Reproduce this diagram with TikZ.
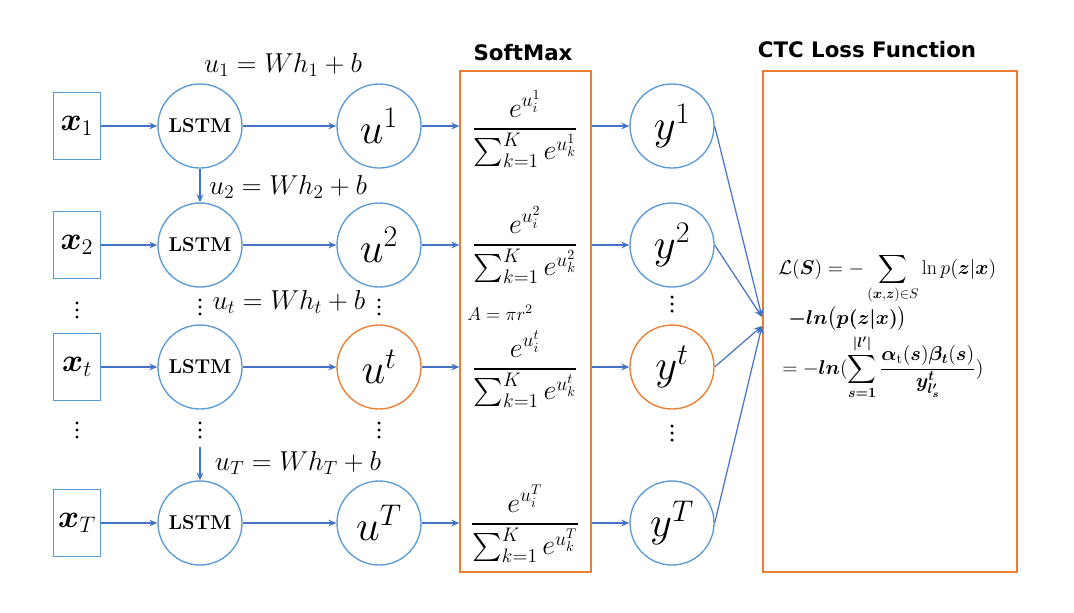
\RequirePackage{fix-cm}
\documentclass[tikz,border=0pt]{standalone}
\usepackage{amsmath,amssymb}
\usepackage{bm}
\usepackage{fontspec}
\newfontfamily\titlefont{DejaVu Sans}
\usetikzlibrary{arrows.meta}
\definecolor{cblue}{RGB}{91,155,213}
\definecolor{ablue}{RGB}{68,114,196}
\definecolor{corange}{RGB}{237,125,49}
\newcommand{\myfs}[1]{\fontsize{#1}{#1}\selectfont}
\begin{document}
\begin{tikzpicture}[x=0.75pt,y=-0.75pt,
  circ/.style={circle,draw=cblue,line width=1pt,minimum size=63pt,inner sep=0pt},
  ocirc/.style={circ,draw=corange},
  xbox/.style={draw=cblue,line width=1pt,minimum width=35pt,minimum height=50pt,inner sep=0pt,font=\myfs{24}},
  lstm/.style={circ,font=\myfs{15}\bfseries},
  unode/.style={font=\myfs{32}},
  arr/.style={draw=ablue,line width=0.9pt,-{Stealth[length=6pt,width=5pt]}},
  lab/.style={font=\myfs{20.5}},
  fracn/.style={font=\myfs{21},anchor=base},
  ttl/.style={font=\titlefont\bfseries\myfs{16}},
  ctc/.style={font=\myfs{15},anchor=base west,inner sep=0pt},
  obox/.style={draw=corange,line width=1pt,inner sep=0pt}
]
\useasboundingbox (0,0) rectangle (1074,612);
\fill[white] (0,0) rectangle (1074,612);

% input boxes
\node[xbox] (x1) at (77,126) {$\bm{x}_1$};
\node[xbox] (x2) at (77,245) {$\bm{x}_2$};
\node[xbox] (xt) at (77,367) {$\bm{x}_t$};
\node[xbox] (xT) at (77,523) {$\bm{x}_T$};

% LSTM
\node[lstm] (l1) at (200,126) {LSTM};
\node[lstm] (l2) at (200,245) {LSTM};
\node[lstm] (lt) at (200,367) {LSTM};
\node[lstm] (lT) at (200,523) {LSTM};

% u nodes
\node[circ,unode] (u1) at (379,126) {$u^1$};
\node[circ,unode] (u2) at (379,245) {$u^2$};
\node[ocirc,unode] (ut) at (379,367) {$u^t$};
\node[circ,unode] (uT) at (379,523) {$u^T$};

% y nodes
\node[circ,unode] (y1) at (672,126) {$y^1$};
\node[circ,unode] (y2) at (672,245) {$y^2$};
\node[ocirc,unode] (yt) at (672,367) {$y^t$};
\node[circ,unode] (yT) at (672,523) {$y^T$};

% boxes
\node[obox,minimum width=98.25pt,minimum height=375.75pt] (sm) at (525.5,321.5) {};
\node[obox,minimum width=190.5pt,minimum height=375.75pt] (ctcb) at (890,321.5) {};
\node[ttl] (smt) at (523,53) {SoftMax};
\node[ttl] (ctct) at (867,50) {CTC Loss Function};

% labels
\node[lab] (e1) at (283,65) {$u_1 = Wh_1 + b$};
\node[lab] (e2) at (288,187) {$u_2 = Wh_2 + b$};
\node[lab] (et) at (289,302) {$u_t = Wh_t + b$};
\node[lab] (eT) at (298,463) {$u_T = Wh_T + b$};
\node[font=\myfs{14}] (area) at (500,313) {$A = \pi r^2$};

% softmax fractions
\node[fracn] (f1) at (525,136) {$\dfrac{e^{u_i^1}}{\sum_{k=1}^{K} e^{u_k^1}}$};
\node[fracn] (f2) at (525,252) {$\dfrac{e^{u_i^2}}{\sum_{k=1}^{K} e^{u_k^2}}$};
\node[fracn] (ft) at (525,376) {$\dfrac{e^{u_i^t}}{\sum_{k=1}^{K} e^{u_k^t}}$};
\node[fracn] (fT) at (525,531) {$\dfrac{e^{u_i^T}}{\sum_{k=1}^{K} e^{u_k^T}}$};

% CTC formulas
\node[ctc] (c1f) at (778,274) {$\displaystyle \mathcal{L}(\bm{S}) = -\sum_{(\bm{x},\bm{z})\in S} \ln p(\bm{z}|\bm{x})$};
\node[ctc] (c2f) at (788,324) {$\bm{-ln\bigl(p(z|x)\bigr)}$};
\node[ctc] (c3f) at (782,374) {$\displaystyle = -\bm{ln}(\sum_{\bm{s=1}}^{\bm{|l'|}} \frac{\bm{\alpha}_{\mathrm{t}}(\bm{s})\bm{\beta}_{\bm{t}}(\bm{s})}{\bm{y}^{\bm{t}}_{\bm{l'_s}}})$};

% dots
\foreach \px/\py in {77/310, 77/430, 200/307, 200/430, 379/307, 379/430, 672/304, 672/433}
  { \foreach \d in {-7,0,7} \fill (\px,\py+\d) circle[radius=1.3pt]; }

% connectors
\foreach \r in {1,2,t,T} {
  \draw[arr] (x\r.east) -- (l\r.west);
  \draw[arr] (l\r.east) -- (u\r.west);
  \draw[arr] (u\r.east) -- (u\r.east -| sm.west);
  \draw[arr] (u\r.east -| sm.east) -- (y\r.west);
}
\draw[arr] (l1.south) -- (l2.north);
\coordinate (cT) at (200,447);
\draw[arr] (cT) -- (lT.north);
\coordinate (k1) at (762,317);
\coordinate (k2) at (762,326);
\draw[arr] (y1.east) -- (k1);
\draw[arr] (y2.east) -- (k1);
\draw[arr] (yt.east) -- (k2);
\draw[arr] (yT.east) -- (k2);
\end{tikzpicture}
\end{document}
